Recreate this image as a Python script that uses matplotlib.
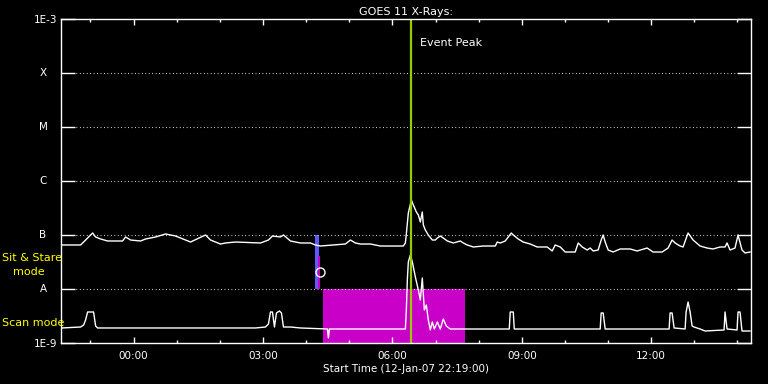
import matplotlib
matplotlib.use("Agg")
import matplotlib.pyplot as plt
import numpy as np

# hours after 00:00 on 13-Jan-07, start 12-Jan-07 22:19
t_start = -1.683
t_end = 14.317

# long channel (upper curve), log10 flux
long_t = [-1.668, -1.228, -1.112, -0.950, -0.880, -0.764, -0.602, -0.255, -0.185, -0.069,
          0.162, 0.278, 0.510, 0.741, 0.973, 1.205, 1.320, 1.668, 1.784, 2.015,
          2.131, 2.363, 2.942, 3.127, 3.220, 3.405, 3.475, 3.637, 3.869, 4.100,
          4.216, 4.332, 4.911, 5.027, 5.143, 5.258, 5.490, 5.722, 6.254, 6.301,
          6.324, 6.370, 6.440, 6.486, 6.556, 6.602, 6.648, 6.694, 6.718, 6.764,
          6.833, 6.926, 6.996, 7.042, 7.111, 7.181, 7.274, 7.413, 7.575, 7.644,
          7.737, 7.876, 8.108, 8.386, 8.432, 8.501, 8.617, 8.687, 8.756, 8.803,
          8.918, 9.034, 9.196, 9.358, 9.590, 9.706, 9.775, 9.891, 10.007, 10.239,
          10.308, 10.401, 10.517, 10.586, 10.656, 10.771, 10.841, 10.887, 10.934, 11.003,
          11.119, 11.281, 11.513, 11.675, 11.906, 12.045, 12.254, 12.393, 12.485, 12.555,
          12.671, 12.740, 12.856, 12.972, 13.134, 13.296, 13.435, 13.597, 13.713, 13.759,
          13.829, 13.944, 14.014, 14.106, 14.176, 14.292]
long_v = [-7.185, -7.185, -7.093, -6.963, -7.037, -7.074, -7.111, -7.111, -7.037, -7.093,
          -7.111, -7.074, -7.037, -6.981, -7.019, -7.093, -7.130, -7.000, -7.093, -7.167,
          -7.148, -7.130, -7.148, -7.093, -7.019, -7.037, -7.000, -7.111, -7.148, -7.148,
          -7.185, -7.204, -7.167, -7.093, -7.148, -7.167, -7.167, -7.204, -7.204, -7.148,
          -6.981, -6.593, -6.352, -6.444, -6.574, -6.630, -6.759, -6.574, -6.815, -6.907,
          -7.000, -7.093, -7.093, -7.056, -7.019, -7.056, -7.111, -7.148, -7.111, -7.148,
          -7.185, -7.222, -7.204, -7.204, -7.130, -7.148, -7.111, -7.037, -6.963, -7.000,
          -7.074, -7.130, -7.167, -7.222, -7.222, -7.296, -7.185, -7.222, -7.315, -7.315,
          -7.148, -7.222, -7.278, -7.241, -7.296, -7.278, -7.093, -7.000, -7.130, -7.278,
          -7.315, -7.259, -7.259, -7.296, -7.241, -7.315, -7.315, -7.241, -7.093, -7.148,
          -7.204, -7.222, -6.963, -7.093, -7.204, -7.241, -7.259, -7.222, -7.222, -7.148,
          -7.278, -7.241, -7.000, -7.278, -7.333, -7.315]

# short channel (lower curve), log10 flux
short_t = [-1.668, -1.228, -1.158, -1.112, -1.066, -0.927, -0.880, -0.834, 2.826, 3.058,
           3.127, 3.174, 3.220, 3.266, 3.313, 3.382, 3.428, 3.475, 3.637, 3.869,
           4.494, 4.517, 4.540, 6.301, 6.324, 6.347, 6.370, 6.417, 6.463, 6.533,
           6.602, 6.648, 6.694, 6.741, 6.787, 6.833, 6.880, 6.926, 6.972, 7.042,
           7.111, 7.181, 7.250, 7.343, 8.710, 8.733, 8.803, 8.826, 10.818, 10.841,
           10.887, 10.934, 12.416, 12.439, 12.485, 12.532, 12.787, 12.810, 12.856, 12.903,
           12.949, 12.995, 13.134, 13.250, 13.690, 13.713, 13.759, 13.991, 14.014, 14.060,
           14.106, 14.292]
short_v = [-8.722, -8.704, -8.667, -8.574, -8.426, -8.426, -8.685, -8.722, -8.722, -8.704,
           -8.648, -8.426, -8.426, -8.704, -8.444, -8.407, -8.444, -8.704, -8.704, -8.722,
           -8.741, -8.907, -8.741, -8.741, -8.389, -7.833, -7.500, -7.370, -7.500, -7.778,
           -8.019, -8.204, -7.796, -8.389, -8.296, -8.574, -8.759, -8.611, -8.741, -8.611,
           -8.741, -8.556, -8.685, -8.741, -8.741, -8.426, -8.426, -8.741, -8.741, -8.444,
           -8.444, -8.741, -8.741, -8.444, -8.444, -8.722, -8.741, -8.426, -8.241, -8.426,
           -8.685, -8.704, -8.741, -8.778, -8.759, -8.426, -8.741, -8.759, -8.426, -8.426,
           -8.778, -8.778]

# small loop glitch near the mode switch
glitch_t = [4.316]
glitch_v = [-7.68]

peak_time = 6.423
scan_span = [4.401, 7.691]
sit_bar = [4.216, 4.293]
sit_bar2 = [4.27, 4.317]
sit_bar2_top = -7.389

levels = [1e-8, 1e-7, 1e-6, 1e-5, 1e-4]
level_names = ["A", "B", "C", "M", "X"]

fig = plt.figure(figsize=(7.68, 3.84), dpi=100, facecolor="black")
ax = fig.add_axes([0.0794, 0.1068, 0.8986, 0.8437], facecolor="black")
ax.set_yscale("log")
ax.set_xlim(t_start, t_end)
ax.set_ylim(1e-9, 1e-3)

# dotted level lines
ax.hlines(levels, -1.344, 13.968, colors="white", linestyles=(0, (0.7, 2.4)), linewidth=0.8)

# scan mode region
ax.fill_between(scan_span, 1e-9, 1e-8, color="#c800c8", linewidth=0)
ax.fill_between(sit_bar, 1e-8, 1e-7, color="#5a5aff", linewidth=0)
ax.fill_between(sit_bar2, 1e-8, 10 ** sit_bar2_top, color="#c800c8", linewidth=0)

ax.plot(long_t, 10 ** np.array(long_v), color="white", linewidth=1)
ax.plot(short_t, 10 ** np.array(short_v), color="white", linewidth=1)
ax.plot(glitch_t, 10 ** np.array(glitch_v), marker="o", ms=6.5, mfc="none", mec="white",
        mew=1, linestyle="none")

ax.axvline(peak_time, color="#99cc00", linewidth=1.6)
ax.text(6.65, 10 ** -3.444, "Event Peak", color="white", fontsize=8, va="center", ha="left")

for spine in ax.spines.values():
    spine.set_color("white")
    spine.set_linewidth(1)

ax.set_xticks([0, 3, 6, 9, 12])
ax.set_xticklabels(["00:00", "03:00", "06:00", "09:00", "12:00"])
ax.set_xticks(np.arange(-1, 15, 1), minor=True)
ax.tick_params(axis="x", which="major", direction="in", length=4.3, width=1, colors="white",
               top=True, bottom=True, labelsize=7.5, pad=6)
ax.tick_params(axis="x", which="minor", direction="in", length=2.2, width=1, colors="white",
               top=True, bottom=True)

ax.set_yticks([1e-9] + levels + [1e-3])
ax.set_yticklabels(["1E-9", "", "", "", "", "", "1E-3"])
ax.yaxis.set_minor_locator(matplotlib.ticker.NullLocator())
ax.tick_params(axis="y", which="major", direction="in", length=10, width=1, colors="white",
               left=True, right=True, labelsize=7.5, pad=3)
for lv, name in zip(levels, level_names):
    ax.text(-0.026, lv, name, transform=ax.get_yaxis_transform(), color="white",
            fontsize=7.5, ha="center", va="center")

ax.set_title("GOES 11 X-Rays:", color="white", fontsize=8, pad=3)
ax.set_xlabel("Start Time (12-Jan-07 22:19:00)", color="white", fontsize=7.5, labelpad=2)

fig.text(0.0026, 0.328, "Sit & Stare", color="#ffff00", fontsize=8, va="center", ha="left")
fig.text(0.017, 0.2917, "mode", color="#ffff00", fontsize=8, va="center", ha="left")
fig.text(0.0026, 0.159, "Scan mode", color="#ffff00", fontsize=8, va="center", ha="left")

fig.savefig("out.png", dpi=100, facecolor="black")
